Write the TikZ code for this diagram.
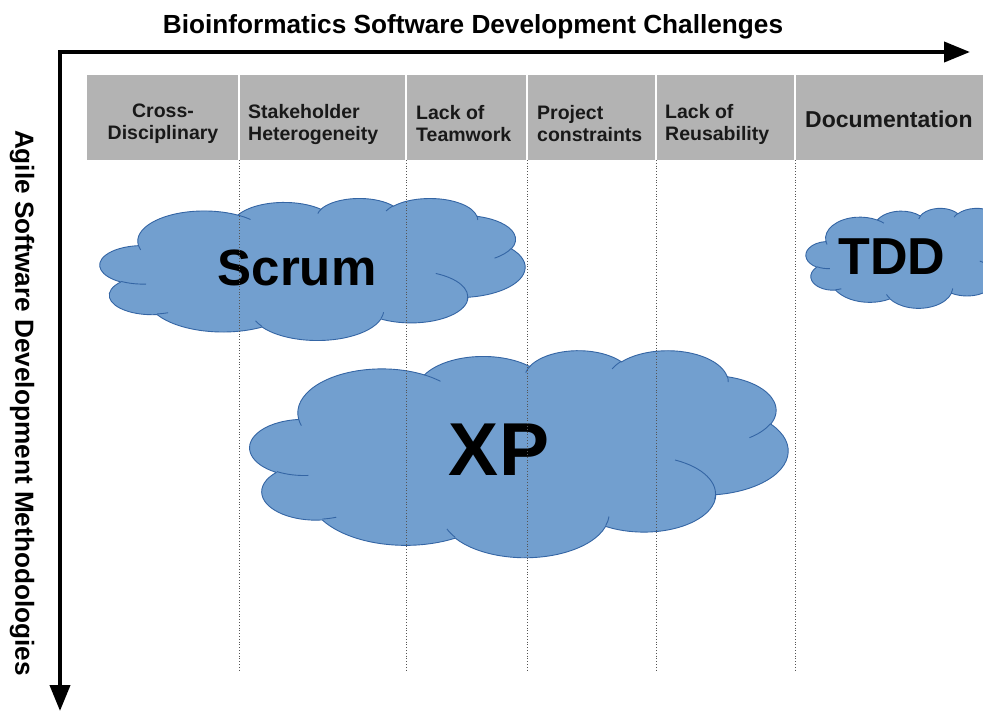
\documentclass[tikz,border=0pt]{standalone}
\usepackage{fontspec}
\setmainfont{Liberation Sans}
\usetikzlibrary{arrows.meta}
\definecolor{hdrgray}{HTML}{B3B3B3}
\definecolor{cloudfill}{HTML}{729FCF}
\definecolor{cloudline}{HTML}{3465A4}
\definecolor{dotgray}{HTML}{555555}
% arc helper: OOXML visual angles -> parametric angles
\newcommand\cldset[5]{%
  \pgfmathsetmacro\cldta{atan2(#2*sin(#4), #3*cos(#4))}%
  \pgfmathsetmacro\cldtb{atan2(#2*sin(#4+#5), #3*cos(#4+#5))}%
  \pgfmathsetmacro\cldtd{mod(\cldtb-\cldta+720,360)}%
  \pgfmathsetmacro\cldtb{\cldta+\cldtd}%
  \edef\cldtmp{\noexpand\tikzset{cld#1/.style={start angle=\cldta, end angle=\cldtb, x radius=#2, y radius=#3}}}%
  \cldtmp}
\cldset{oA}{67.53}{91.90}{-190.4875}{123.7805}
\cldset{oB}{53.33}{72.67}{-144.1024}{89.9452}
\cldset{oC}{43.65}{59.45}{-145.8079}{99.7230}
\cldset{oD}{48.57}{65.95}{-130.9861}{117.2417}
\cldset{oE}{53.33}{72.73}{-78.7089}{109.0269}
\cldset{oF}{67.75}{92.20}{-46.2673}{130.2690}
\cldset{oG}{57.85}{78.67}{0.6250}{114.0333}
\cldset{oH}{67.52}{92.15}{22.4516}{115.1726}
\cldset{oI}{77.20}{105.43}{66.2426}{75.7110}
\cldset{oJ}{43.60}{59.18}{-274.9421}{146.7356}
\cldset{oK}{43.45}{59.45}{-246.8285}{152.5189}
\cldset{iA}{43.45}{59.45}{86.7420}{26.4295}
\cldset{iB}{43.60}{59.18}{73.6105}{11.4475}
\cldset{iC}{67.52}{92.15}{137.6242}{14.0811}
\cldset{iD}{67.52}{92.15}{6.4533}{15.9984}
\cldset{iE}{57.85}{78.67}{-70.2924}{81.5715}
\cldset{iF}{53.33}{72.73}{30.3180}{30.7745}
\cldset{iG}{48.57}{65.95}{-13.7443}{14.8589}
\cldset{iH}{48.57}{65.95}{-149.1815}{18.1954}
\cldset{iI}{43.65}{59.45}{-163.4943}{17.6864}
\cldset{iJ}{67.53}{91.90}{-66.7070}{12.3194}
\cldset{iK}{67.53}{91.90}{157.6544}{11.8582}
\newcommand\drawcloud[4]{%
  \pgfmathsetmacro\cldsx{#3/432}\pgfmathsetmacro\cldsy{#4/432}%
  \begin{scope}[shift={(#1,#2)}, x=\cldsx pt, y=-\cldsy pt]
    \path[cloudbody] (39.00,143.70) arc[cldoA] arc[cldoB] arc[cldoC] arc[cldoD]
      arc[cldoE] arc[cldoF] arc[cldoG] arc[cldoH] arc[cldoI] arc[cldoJ] arc[cldoK] -- cycle;
    \draw[cloudedge] (46.93,261.77) arc[cldiA] (69.28,348.99) arc[cldiB]
      (164.78,390.90) arc[cldiC] (288.27,347.51) arc[cldiD]
      (341.29,229.54) arc[cldiE] (417.98,153.54) arc[cldiF]
      (383.24,54.26) arc[cldiG] (290.78,39.52) arc[cldiH]
      (221.41,47.20) arc[cldiI] (140.00,51.92) arc[cldiJ]
      (41.27,157.89) arc[cldiK];
  \end{scope}}
\begin{document}
\begin{tikzpicture}[x=1pt,y=-1pt,
  cloudbody/.style={fill=cloudfill, draw=cloudline, line width=0.9pt, line join=round},
  cloudedge/.style={draw=cloudline, line width=0.9pt},
  hdrtext/.style={font=\fontsize{19.5}{22}\selectfont\bfseries, inner sep=0pt, text=black!90},
  sepdot/.style={draw=dotgray, dotted, line width=0.8pt},
  colsep/.style={draw=white, line width=1.5pt},
  axis/.style={line width=4pt, {Triangle[length=26pt,width=20pt]}-{Triangle[length=26pt,width=20pt]}},
  axistext/.style={font=\fontsize{26.2}{30}\selectfont\bfseries, inner sep=0pt},
  cloudtext/.style={inner sep=0pt, font=\bfseries}]
\useasboundingbox (0,0) rectangle (983,712);
\clip (0,0) rectangle (983,712);
\fill[white] (0,0) rectangle (983,712);
% axes
\coordinate (origin) at (60,52);
\coordinate (xend) at (970,52);
\coordinate (yend) at (60,711);
\draw[axis] (yend) -- (origin) -- (xend);
\node[axistext] (xlabel) at (473,27) {Bioinformatics Software Development Challenges};
\node[axistext, rotate=-90] (ylabel) at (22,403) {Agile Software Development Methodologies};
% header
\fill[hdrgray] (87,75) rectangle (990,160);
\foreach \xx in {239,406,527,656,795} \draw[colsep] (\xx,75) -- (\xx,160);
\node[hdrtext, align=center] (h1) at (163,124) {Cross-\\Disciplinary};
\node[hdrtext, align=left, anchor=west] (h2) at (248,124) {Stakeholder\\Heterogeneity};
\node[hdrtext, align=left, anchor=west] (h3) at (416,124) {Lack of\\Teamwork};
\node[hdrtext, align=left, anchor=west] (h4) at (537,124) {Project\\constraints};
\node[hdrtext, align=left, anchor=west] (h5) at (665,124) {Lack of\\Reusability};
\node[hdrtext, anchor=west, font=\fontsize{23}{25}\selectfont\bfseries] (h6) at (805,119) {Documentation};
% clouds
\drawcloud{100}{198}{425}{142}
\drawcloud{250}{350}{538}{207}
\drawcloud{806}{208}{220}{100}
\node[cloudtext, font=\fontsize{51}{51}\selectfont\bfseries] (scrum) at (297,268) {Scrum};
\node[cloudtext, font=\fontsize{75}{75}\selectfont\bfseries] (xp) at (499,450) {XP};
\node[cloudtext, font=\fontsize{52}{52}\selectfont\bfseries] (tdd) at (892,257) {TDD};
% dotted column lines
\foreach \xx in {239,406,527,656,795} \draw[sepdot] (\xx,160) -- (\xx,670);
\end{tikzpicture}
\end{document}
